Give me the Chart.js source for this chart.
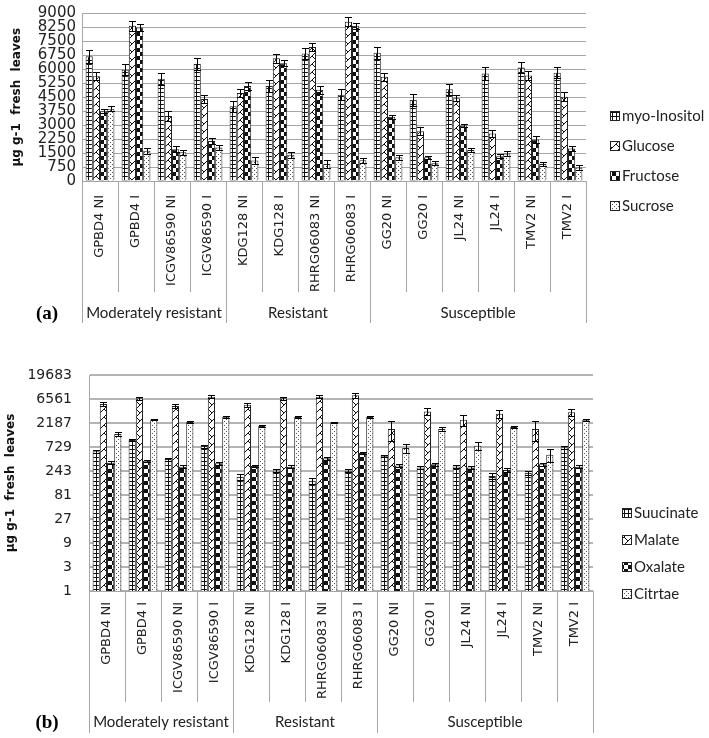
<!DOCTYPE html>
<html>
<head>
<meta charset="utf-8">
<script src="https://cdn.jsdelivr.net/npm/chart.js@4.4.0/dist/chart.umd.min.js"></script>
<style>
  body { margin: 0; background: #fff; width: 709px; height: 738px; position: relative; overflow: hidden; }
  canvas { position: absolute; left: 0; }
  #chartA { top: 0; }
  #chartB { top: 345px; }
</style>
</head>
<body>
<canvas id="chartA" width="709" height="338"></canvas>
<canvas id="chartB" width="709" height="393"></canvas>
<script>
// categories and groups (shared by both panels)
const categories = ['GPBD4 NI', 'GPBD4 I', 'ICGV86590 NI', 'ICGV86590 I', 'KDG128 NI', 'KDG128 I',
  'RHRG06083 NI', 'RHRG06083 I', 'GG20 NI', 'GG20 I', 'JL24 NI', 'JL24 I', 'TMV2 NI', 'TMV2 I'];
const groups = ['Moderately resistant', 'Resistant', 'Susceptible'];
const groupSizes = [4, 4, 6];

// panel (a) - sugars
const sugarNames = ['myo-Inositol', 'Glucose', 'Fructose', 'Sucrose'];
const myoInositol = [6700, 5980, 5490, 6280, 4010, 5110, 6850, 4630, 6890, 4360, 4935, 5770, 6100, 5810];
const myoInositolErr = [340, 300, 310, 310, 310, 310, 310, 300, 310, 310, 300, 330, 300, 300];
const glucose = [5630, 8340, 3490, 4410, 4730, 6590, 7200, 8560, 5600, 2670, 4450, 2550, 5670, 4530];
const glucoseErr = [210, 260, 260, 210, 240, 260, 210, 240, 210, 210, 170, 210, 230, 230];
const fructose = [3750, 8250, 1710, 2150, 5110, 6330, 4900, 8340, 3450, 1270, 2980, 1330, 2230, 1740];
const fructoseErr = [120, 170, 170, 170, 210, 170, 210, 170, 120, 90, 100, 120, 170, 140];
const sucrose = [3880, 1620, 1540, 1800, 1100, 1410, 920, 1120, 1270, 960, 1660, 1480, 920, 720];
const sucroseErr = [140, 170, 120, 140, 170, 170, 210, 140, 150, 90, 100, 140, 90, 150];
const ticksA = [0, 750, 1500, 2250, 3000, 3750, 4500, 5250, 6000, 6750, 7500, 8250, 9000];

// panel (b) - organic acids (log base 3 axis)
const acidNames = ['Suucinate', 'Malate', 'Oxalate', 'Citrtae'];
const succinate = [600, 1000, 420, 760, 187, 250, 156, 247, 490, 285, 300, 193, 225, 720];
const succinateErr = [40, 60, 30, 50, 25, 15, 20, 15, 25, 20, 20, 25, 20, 50];
const malate = [5200, 6800, 4770, 7280, 5050, 6760, 7300, 7800, 1660, 3700, 2540, 3350, 1660, 3570];
const malateErr = [450, 500, 400, 500, 400, 500, 500, 850, 700, 600, 650, 540, 700, 530];
const oxalate = [356, 390, 296, 345, 306, 296, 435, 552, 311, 330, 285, 254, 330, 296];
const oxalateErr = [25, 20, 20, 20, 20, 20, 25, 25, 20, 20, 20, 20, 20, 20];
const citrate = [1320, 2580, 2300, 2900, 1900, 2870, 2250, 2870, 700, 1660, 775, 1825, 513, 2540];
const citrateErr = [130, 100, 80, 100, 100, 100, 80, 100, 140, 170, 140, 60, 150, 100];
const ticksB = [1, 3, 9, 27, 81, 243, 729, 2187, 6561, 19683];

Chart.defaults.font.family = 'DejaVu Sans';
Chart.defaults.color = '#222';

// fill patterns, like the excel ones
function makePattern(kind) {
  const c = document.createElement('canvas');
  const g = c.getContext('2d');
  const s = kind === 'check' || kind === 'zigzag' ? 8 : 4;
  c.width = s; c.height = s;
  g.fillStyle = '#fff';
  g.fillRect(0, 0, s, s);
  g.fillStyle = '#111';
  g.strokeStyle = '#111';
  if (kind === 'grid') {
    g.fillRect(0, 0, s, 1);
    g.fillRect(0, 0, 1, s);
  } else if (kind === 'check') {
    g.fillRect(0, 0, 4, 4);
    g.fillRect(4, 4, 4, 4);
  } else if (kind === 'dots') {
    g.fillStyle = '#555';
    g.fillRect(0, 0, 1, 1);
    g.fillRect(2, 2, 1, 1);
  } else if (kind === 'zigzag') {
    g.lineWidth = 1;
    g.beginPath();
    g.moveTo(0, 8); g.lineTo(8, 0);
    g.moveTo(0, 0); g.lineTo(4, 4);
    g.stroke();
  }
  return g.createPattern(c, 'repeat');
}
const patterns = ['grid', 'zigzag', 'check', 'dots'].map(makePattern);

const decoPlugin = {
  id: 'deco',
  afterDatasetsDraw(chart) {
    // error bars
    const ctx = chart.ctx;
    const y = chart.scales.y;
    const low = y.min;
    ctx.save();
    ctx.strokeStyle = '#000';
    ctx.lineWidth = 1;
    chart.data.datasets.forEach((ds, di) => {
      chart.getDatasetMeta(di).data.forEach((bar, i) => {
        const v = ds.data[i], e = ds.errors[i];
        const x = Math.round(bar.x) + 0.5;
        const yt = Math.round(y.getPixelForValue(v + e)) + 0.5;
        const yb = Math.round(y.getPixelForValue(Math.max(v - e, low))) + 0.5;
        const h = 3.5;
        ctx.beginPath();
        ctx.moveTo(x, yt); ctx.lineTo(x, yb);
        ctx.moveTo(x - h, yt); ctx.lineTo(x + h, yt);
        ctx.moveTo(x - h, yb); ctx.lineTo(x + h, yb);
        ctx.stroke();
      });
    });
    ctx.restore();
  },
  afterDraw(chart, args, opts) {
    const ctx = chart.ctx;
    const x = chart.scales.x;
    const bottom = chart.chartArea.bottom;
    const half = (x.getPixelForValue(1) - x.getPixelForValue(0)) / 2;
    ctx.save();
    // category / group separators below the axis
    ctx.strokeStyle = '#a6a6a6';
    ctx.lineWidth = 1;
    const groupEdges = [0];
    groupSizes.forEach(n => groupEdges.push(groupEdges[groupEdges.length - 1] + n));
    for (let i = 0; i <= categories.length; i++) {
      const px = Math.round(x.getPixelForValue(i) - half) + 0.5;
      const len = groupEdges.includes(i) ? opts.groupLen : opts.catLen;
      ctx.beginPath();
      ctx.moveTo(px, bottom);
      ctx.lineTo(px, bottom + len);
      ctx.stroke();
    }
    // group labels
    ctx.fillStyle = '#222';
    ctx.font = '15px Lato';
    ctx.textAlign = 'center';
    ctx.textBaseline = 'middle';
    groups.forEach((g, k) => {
      const a = x.getPixelForValue(groupEdges[k]) - half;
      const b = x.getPixelForValue(groupEdges[k + 1]) - half;
      ctx.fillText(g, (a + b) / 2, bottom + opts.groupLabelY);
    });
    // panel tag
    ctx.font = 'bold 19px "Liberation Serif"';
    ctx.fillStyle = '#000';
    ctx.fillText(opts.tag, 47, bottom + opts.groupLabelY + 1);
    // legend
    ctx.font = '15px Lato';
    ctx.textAlign = 'left';
    chart.data.datasets.forEach((ds, di) => {
      const ly = opts.legendY + di * opts.legendGap;
      ctx.fillStyle = patterns[di];
      ctx.fillRect(opts.legendX, ly - 4.5, 9, 9);
      ctx.strokeStyle = '#222';
      ctx.strokeRect(opts.legendX + 0.5, ly - 4.5, 9, 9);
      ctx.fillStyle = '#222';
      ctx.fillText(ds.label, opts.legendX + 12, ly);
    });
    ctx.restore();
  }
};

function buildDatasets(names, values, errs) {
  return names.map((n, i) => ({
    label: n,
    data: values[i],
    errors: errs[i],
    backgroundColor: patterns[i],
    borderColor: '#222',
    borderWidth: 1,
    categoryPercentage: 0.8,
    barPercentage: 1.0
  }));
}

function xScale(pad) {
  return {
    type: 'category',
    offset: true,
    grid: { display: true, drawOnChartArea: false, drawTicks: false, offset: true, color: '#a6a6a6' },
    border: { color: '#a6a6a6' },
    ticks: { autoSkip: false, minRotation: 90, maxRotation: 90, padding: pad, font: { size: 13 }, color: '#222' },
    afterFit: s => { s.height = 142; }
  };
}

new Chart(document.getElementById('chartA'), {
  type: 'bar',
  data: {
    labels: categories,
    datasets: buildDatasets(sugarNames, [myoInositol, glucose, fructose, sucrose],
      [myoInositolErr, glucoseErr, fructoseErr, sucroseErr])
  },
  options: {
    responsive: false,
    animation: false,
    layout: { padding: { left: 0, right: 123, top: 9, bottom: 15 } },
    plugins: {
      legend: { display: false },
      tooltip: { enabled: false },
      deco: { tag: '(a)', catLen: 111, groupLen: 142, groupLabelY: 132, legendX: 610, legendY: 116, legendGap: 30 }
    },
    scales: {
      x: xScale(14),
      y: {
        min: 0, max: 9000,
        grid: { color: '#a6a6a6', drawTicks: false },
        border: { color: '#a6a6a6' },
        afterBuildTicks: s => { s.ticks = ticksA.map(v => ({ value: v })); },
        ticks: { autoSkip: false, padding: 6, font: { size: 15, lineHeight: 1 }, color: '#222', callback: v => String(v) },
        title: { display: true, text: 'µg g-1  fresh  leaves', padding: { top: 10, bottom: 0 },
          font: { size: 12, weight: 'bold' }, color: '#111' },
        afterFit: s => { s.width = 82; }
      }
    }
  },
  plugins: [decoPlugin]
});

new Chart(document.getElementById('chartB'), {
  type: 'bar',
  data: {
    labels: categories,
    datasets: buildDatasets(acidNames, [succinate, malate, oxalate, citrate],
      [succinateErr, malateErr, oxalateErr, citrateErr])
  },
  options: {
    responsive: false,
    animation: false,
    layout: { padding: { left: 0, right: 116, top: 30, bottom: 5 } },
    plugins: {
      legend: { display: false },
      tooltip: { enabled: false },
      deco: { tag: '(b)', catLen: 111, groupLen: 142, groupLabelY: 131, legendX: 622, legendY: 168, legendGap: 27 }
    },
    scales: {
      x: xScale(11),
      y: {
        type: 'logarithmic',
        min: 1, max: 19683,
        grid: { color: '#b4b4b4', lineWidth: 2, drawTicks: false },
        border: { color: '#a6a6a6' },
        afterBuildTicks: s => { s.ticks = ticksB.map(v => ({ value: v })); },
        ticks: { autoSkip: false, padding: 17, font: { size: 14 }, color: '#222', callback: v => String(v) },
        title: { display: true, text: 'µg g-1  fresh  leaves', padding: { top: 4, bottom: 0 },
          font: { size: 12, weight: 'bold' }, color: '#111' },
        afterFit: s => { s.width = 89; }
      }
    }
  },
  plugins: [decoPlugin]
});
</script>
</body>
</html>
